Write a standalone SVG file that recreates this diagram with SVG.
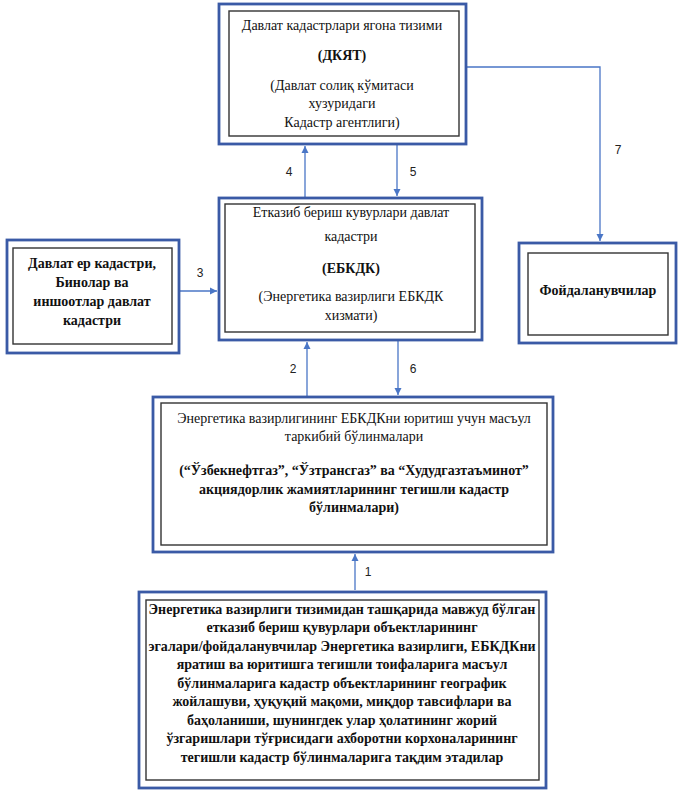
<svg xmlns="http://www.w3.org/2000/svg" width="682" height="799" viewBox="0 0 682 799">
<style>
.outer{fill:#fff;stroke:#3a5aa6;stroke-width:2.8}
.inner{fill:#fff;stroke:#333;stroke-width:1.4}
.t{font-family:"Liberation Serif","Times New Roman","DejaVu Serif",serif;font-size:14px;fill:#111;text-anchor:middle}
.b{font-weight:bold}
.n{font-family:"Liberation Sans",Arial,sans-serif;font-size:12px;fill:#222;text-anchor:middle}
.c{fill:none;stroke:#4a76c6;stroke-width:1.3}
</style>
<defs>
<marker id="ah" markerUnits="userSpaceOnUse" markerWidth="8" markerHeight="8" refX="7" refY="4" orient="auto">
<path d="M0,0.5 L7,4 L0,7.5 z" fill="#4a76c6"/>
</marker>
</defs>
<rect width="682" height="799" fill="#fff"/>
<g id="connectors">
<line class="c" x1="305" y1="198" x2="305" y2="146" marker-end="url(#ah)"/>
<line class="c" x1="397" y1="144" x2="397" y2="196" marker-end="url(#ah)"/>
<line class="c" x1="179" y1="291" x2="217" y2="291" marker-end="url(#ah)"/>
<polyline class="c" points="466,67 600,67 600,241" marker-end="url(#ah)"/>
<line class="c" x1="307" y1="397" x2="307" y2="342" marker-end="url(#ah)"/>
<line class="c" x1="398" y1="340" x2="398" y2="395" marker-end="url(#ah)"/>
<line class="c" x1="355" y1="590" x2="355" y2="554" marker-end="url(#ah)"/>
<text class="n" x="289" y="176">4</text>
<text class="n" x="413" y="176">5</text>
<text class="n" x="200" y="277">3</text>
<text class="n" x="618" y="154">7</text>
<text class="n" x="293" y="373">2</text>
<text class="n" x="413" y="373">6</text>
<text class="n" x="368" y="576">1</text>
</g>
<g id="dkyat">
<rect class="outer" x="219" y="4" width="247" height="140"/>
<rect class="inner" x="229" y="11" width="230" height="125"/>
<text class="t" x="342" y="30">Давлат кадастрлари ягона тизими</text>
<text class="t b" x="342" y="60">(ДКЯТ)</text>
<text class="t" x="342" y="90">(Давлат солиқ кўмитаси</text>
<text class="t" x="342" y="108">хузуридаги</text>
<text class="t" x="342" y="127">Кадастр агентлиги)</text>
</g>
<g id="ebkdk">
<rect class="outer" x="219" y="198" width="263" height="142"/>
<rect class="inner" x="225" y="204" width="250" height="128"/>
<text class="t" x="351" y="217">Етказиб бериш кувурлари давлат</text>
<text class="t" x="351" y="241">кадастри</text>
<text class="t b" x="351" y="273">(ЕБКДК)</text>
<text class="t" x="351" y="301">(Энергетика вазирлиги ЕБКДК</text>
<text class="t" x="351" y="320">хизмати)</text>
</g>
<g id="landcad">
<rect class="outer" x="7" y="240" width="172" height="113"/>
<rect class="inner" x="13" y="248" width="159" height="96"/>
<text class="t b" x="92" y="268">Давлат ер кадастри,</text>
<text class="t b" x="92" y="287">Бинолар ва</text>
<text class="t b" x="92" y="306">иншоотлар давлат</text>
<text class="t b" x="92" y="325">кадастри</text>
</g>
<g id="users">
<rect class="outer" x="519" y="243" width="157" height="100"/>
<rect class="inner" x="528" y="253" width="140" height="82"/>
<text class="t b" x="598" y="295">Фойдаланувчилар</text>
</g>
<g id="units">
<rect class="outer" x="153" y="397" width="400" height="155"/>
<rect class="inner" x="161" y="403" width="386" height="142"/>
<text class="t" x="354" y="423">Энергетика вазирлигининг ЕБКДКни юритиш учун масъул</text>
<text class="t" x="354" y="441">таркибий бўлинмалари</text>
<text class="t b" x="354" y="475">(“Ўзбекнефтгаз”, “Ўзтрансгаз” ва “Худудгазтаъминот”</text>
<text class="t b" x="354" y="494">акциядорлик жамиятларининг тегишли кадастр</text>
<text class="t b" x="354" y="512">бўлинмалари)</text>
</g>
<g id="owners">
<rect class="outer" x="139" y="592" width="407" height="196"/>
<rect class="inner" x="146" y="600" width="393" height="180"/>
<text class="t b" x="342" y="614">Энергетика вазирлиги тизимидан ташқарида мавжуд бўлган</text>
<text class="t b" x="342" y="632">етказиб бериш қувурлари объектларининг</text>
<text class="t b" x="342" y="651">эгалари/фойдаланувчилар Энергетика вазирлиги, ЕБКДКни</text>
<text class="t b" x="342" y="669">яратиш ва юритишга тегишли тоифаларига масъул</text>
<text class="t b" x="342" y="688">бўлинмаларига кадастр объектларининг географик</text>
<text class="t b" x="342" y="706">жойлашуви, ҳуқуқий мақоми, миқдор тавсифлари ва</text>
<text class="t b" x="342" y="725">баҳоланиши, шунингдек улар ҳолатининг жорий</text>
<text class="t b" x="342" y="743">ўзгаришлари тўғрисидаги ахборотни корхоналарининг</text>
<text class="t b" x="342" y="762">тегишли кадастр бўлинмаларига тақдим этадилар</text>
</g>
</svg>
